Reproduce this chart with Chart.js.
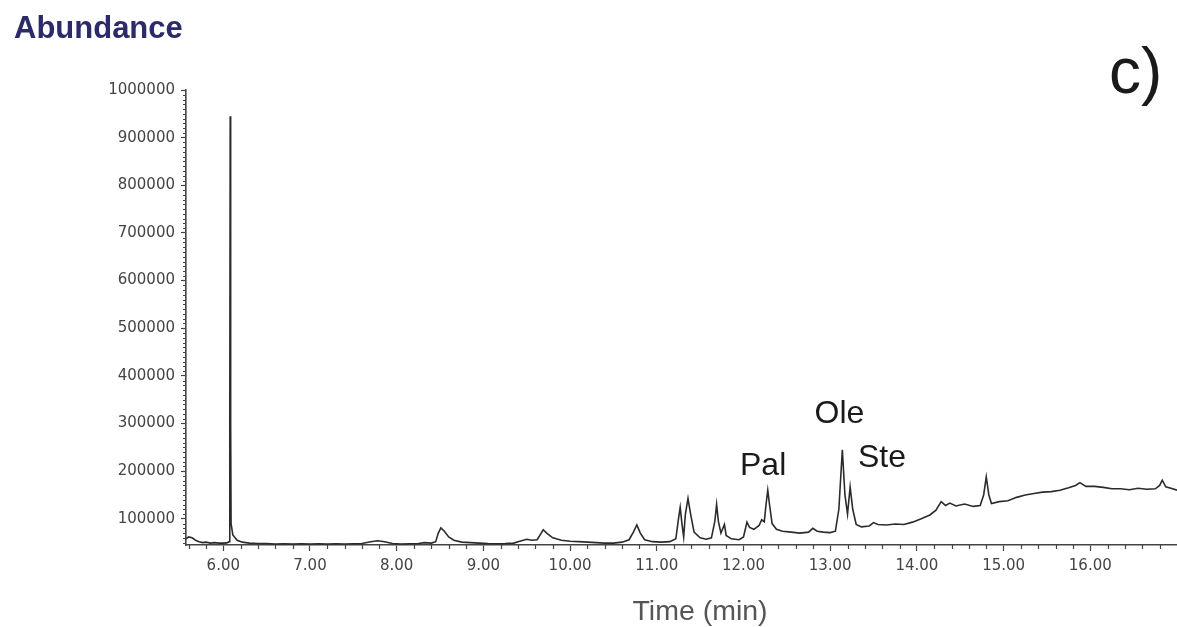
<!DOCTYPE html>
<html>
<head>
<meta charset="utf-8">
<script src="https://cdn.jsdelivr.net/npm/chart.js@4"></script>
<style>
  body { margin: 0; background: #fff; }
  #wrap { width: 1177px; height: 627px; }
</style>
</head>
<body>
<div id="wrap"><canvas id="chrom"></canvas></div>
<script>
// retention time (min)
const times = [
  5.57, 5.60, 5.64, 5.68, 5.72, 5.76, 5.80, 5.85, 5.90, 5.95, 6.00, 6.04, 6.07, 6.075, 6.08, 6.085, 6.09, 6.11, 6.16, 6.22,
  6.30, 6.40, 6.50, 6.60, 6.70, 6.80, 6.90, 7.00, 7.10, 7.20, 7.30, 7.40, 7.50, 7.60, 7.70, 7.78, 7.86, 7.95, 8.05, 8.15,
  8.25, 8.32, 8.40, 8.45, 8.48, 8.51, 8.55, 8.60, 8.66, 8.75, 8.85, 8.95, 9.05, 9.15, 9.25, 9.35, 9.42, 9.50, 9.56, 9.62,
  9.66, 9.69, 9.73, 9.80, 9.90, 10.00, 10.10, 10.20, 10.30, 10.40, 10.50, 10.60, 10.68, 10.73, 10.77, 10.81, 10.86, 10.95, 11.05, 11.15,
  11.22, 11.25, 11.27, 11.29, 11.31, 11.33, 11.36, 11.39, 11.43, 11.50, 11.57, 11.63, 11.67, 11.69, 11.71, 11.74, 11.78, 11.80, 11.86, 11.95,
  12.00, 12.04, 12.07, 12.12, 12.18, 12.21, 12.24, 12.26, 12.28, 12.30, 12.33, 12.38, 12.45, 12.55, 12.65, 12.75, 12.80, 12.85, 12.92, 13.00,
  13.06, 13.10, 13.14, 13.17, 13.20, 13.23, 13.26, 13.30, 13.36, 13.45, 13.50, 13.55, 13.65, 13.75, 13.85, 13.95, 14.05, 14.15, 14.22, 14.28,
  14.33, 14.38, 14.45, 14.55, 14.65, 14.73, 14.77, 14.80, 14.83, 14.86, 14.95, 15.05, 15.15, 15.25, 15.35, 15.45, 15.55, 15.65, 15.75, 15.83,
  15.88, 15.95, 16.05, 16.15, 16.25, 16.35, 16.45, 16.55, 16.65, 16.75, 16.80, 16.83, 16.87, 16.93, 17.00
];

// abundance
const abundance = [
  58000, 62000, 60000, 55000, 52000, 50000, 51000, 49000, 50000, 49000, 49000, 49500, 52000, 300000, 945000, 300000, 90000, 66000, 55000, 51000,
  49000, 48000, 48000, 47000, 47500, 47000, 47500, 47000, 47500, 47000, 47500, 47000, 47500, 48000, 52000, 54000, 52000, 48000, 47000, 47500,
  48000, 50000, 49000, 52000, 70000, 81000, 74000, 62000, 55000, 51000, 50000, 49000, 48000, 47500, 48000, 49000, 53000, 57000, 55000, 56000,
  68000, 77000, 70000, 60000, 55000, 53000, 52000, 51000, 50000, 49000, 49000, 51000, 56000, 72000, 87000, 70000, 56000, 52000, 51000, 52000,
  58000, 100000, 124000, 90000, 62000, 110000, 143000, 110000, 72000, 60000, 57000, 60000, 95000, 130000, 95000, 70000, 88000, 65000, 58000, 56000,
  62000, 93000, 82000, 78000, 86000, 98000, 94000, 130000, 160000, 130000, 90000, 78000, 74000, 72000, 70000, 72000, 80000, 74000, 72000, 71000,
  74000, 120000, 245000, 150000, 110000, 167000, 120000, 88000, 83000, 85000, 92000, 88000, 87000, 89000, 88000, 93000, 100000, 108000, 118000, 136000,
  128000, 133000, 127000, 131000, 126000, 128000, 150000, 188000, 150000, 132000, 136000, 138000, 145000, 150000, 153000, 156000, 157000, 160000, 165000, 170000,
  176000, 168000, 168000, 166000, 163000, 163000, 161000, 164000, 162000, 163000, 170000, 181000, 167000, 164000, 160000
];

const xTicks = [6, 7, 8, 9, 10, 11, 12, 13, 14, 15, 16];
const yTicks = [100000, 200000, 300000, 400000, 500000, 600000, 700000, 800000, 900000, 1000000];

// peak names and where they sit (time, abundance)
const peakNames = ["Pal", "Ole", "Ste"];
const peakAt = [[11.96, 192000], [12.82, 301000], [13.32, 208000]];

const tickFont = { family: "'DejaVu Sans', sans-serif", size: 15 };

const extras = {
  id: "extras",
  afterDraw(chart) {
    const ctx = chart.ctx;
    const xs = chart.scales.x, ys = chart.scales.y;
    const area = chart.chartArea;
    ctx.save();
    // minor ticks
    ctx.strokeStyle = "#444";
    ctx.lineWidth = 1.2;
    ctx.beginPath();
    for (let t = 5.6; t <= 17.0; t += 0.2) {
      const r = Math.round(t * 10) / 10;
      if (Math.abs(r - Math.round(r)) < 0.01) continue;
      const px = Math.round(xs.getPixelForValue(r)) + 0.5;
      ctx.moveTo(px, area.bottom);
      ctx.lineTo(px, area.bottom + 4);
    }
    for (let v = 50000; v <= 1000000; v += 10000) {
      if (v % 100000 === 0) continue;
      const py = Math.round(ys.getPixelForValue(v)) + 0.5;
      ctx.moveTo(area.left, py);
      ctx.lineTo(area.left - 3, py);
    }
    ctx.stroke();

    ctx.textBaseline = "alphabetic";
    ctx.textAlign = "left";
    ctx.fillStyle = "#2c2a6b";
    ctx.font = "bold 31px 'Liberation Sans', Arial, sans-serif";
    ctx.fillText("Abundance", 14, 38);

    ctx.fillStyle = "#1a1a1a";
    ctx.font = "64px 'Liberation Sans', Arial, sans-serif";
    ctx.fillText("c)", 1109, 93);

    ctx.font = "32px 'Liberation Sans', Arial, sans-serif";
    peakNames.forEach((name, i) => {
      ctx.fillText(name, xs.getPixelForValue(peakAt[i][0]), ys.getPixelForValue(peakAt[i][1]));
    });

    // axis title
    ctx.fillStyle = "#555";
    ctx.textAlign = "center";
    ctx.font = "28.5px 'Liberation Sans', Arial, sans-serif";
    ctx.fillText("Time (min)", 700, 620);
    ctx.restore();
  }
};

new Chart(document.getElementById("chrom").getContext("2d"), {
  type: "line",
  data: {
    datasets: [{
      data: times.map((t, i) => ({ x: t, y: abundance[i] })),
      borderColor: "#2b2b2b",
      borderWidth: 1.6,
      pointRadius: 0,
      tension: 0,
      fill: false
    }]
  },
  options: {
    responsive: true,
    maintainAspectRatio: false,
    animation: false,
    layout: { padding: { top: 90, left: 0, right: 0, bottom: 0 } },
    plugins: { legend: { display: false }, tooltip: { enabled: false } },
    scales: {
      x: {
        type: "linear",
        min: 5.57,
        max: 17.0,
        afterBuildTicks: (s) => { s.ticks = xTicks.map((v) => ({ value: v })); },
        afterFit: (s) => { s.height = 82; },
        ticks: {
          autoSkip: false,
          maxRotation: 0,
          padding: 6,
          color: "#444",
          font: tickFont,
          callback: (v) => Number(v).toFixed(2)
        },
        grid: { drawOnChartArea: false, drawTicks: true, tickLength: 6, tickColor: "#444", tickWidth: 1.2 },
        border: { display: true, color: "#444", width: 1.6 }
      },
      y: {
        type: "linear",
        min: 45000,
        max: 1000000,
        afterBuildTicks: (s) => { s.ticks = yTicks.map((v) => ({ value: v })); },
        afterFit: (s) => { s.width = 186; },
        ticks: {
          autoSkip: false,
          padding: 6,
          color: "#444",
          font: tickFont,
          callback: (v) => String(v)
        },
        grid: { drawOnChartArea: false, drawTicks: true, tickLength: 5, tickColor: "#444", tickWidth: 1.2 },
        border: { display: true, color: "#444", width: 1.6 }
      }
    }
  },
  plugins: [extras]
});
</script>
</body>
</html>
